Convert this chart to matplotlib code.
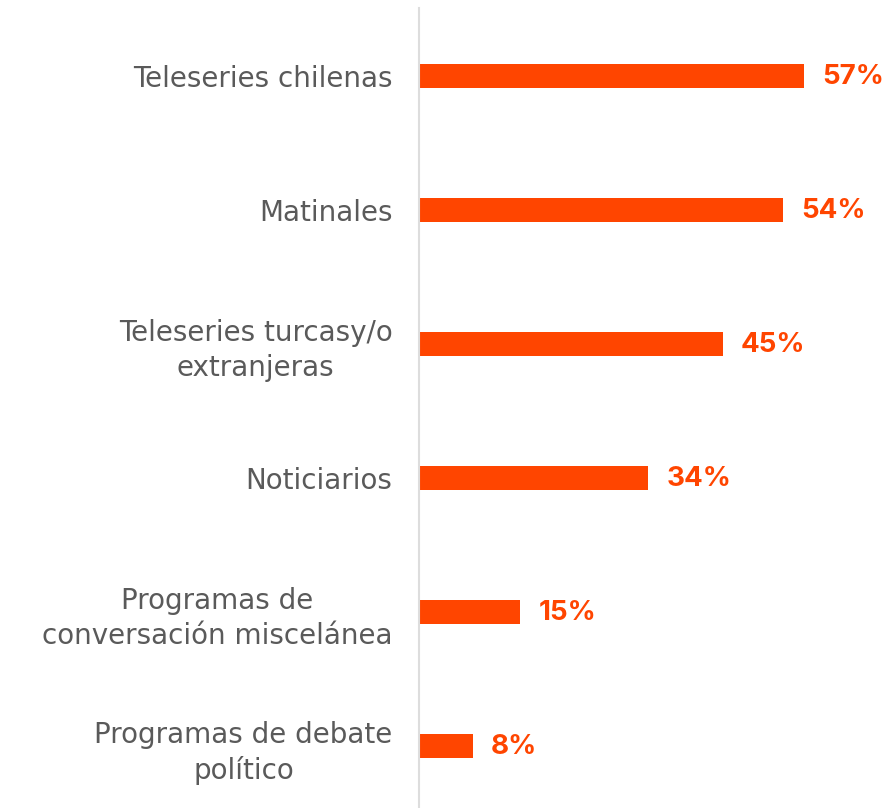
import matplotlib
matplotlib.use("Agg")
import matplotlib.pyplot as plt

categories = [
    "Teleseries chilenas",
    "Matinales",
    "Teleseries turcasy/o\nextranjeras",
    "Noticiarios",
    "Programas de\nconversación miscelánea",
    "Programas de debate\npolítico",
]
values = [57, 54, 45, 34, 15, 8]
value_labels = ["57%", "54%", "45%", "34%", "15%", "8%"]

W, H, DPI = 887, 808, 100
fig = plt.figure(figsize=(W / DPI, H / DPI), dpi=DPI)
ax = fig.add_axes([419 / W, 0, (W - 419) / W, (H - 8) / H])

bar_color = "#FF4500"
text_color = "#5a5a5a"

pos = list(range(len(categories)))
ax.barh(pos, values, height=0.18, color=bar_color, left=0)

px_per_unit = 6.75
ax.set_xlim(0, (W - 419) / px_per_unit)
ax.set_ylim((H - 76) / 134, -68 / 134)

for p, v, lab in zip(pos, values, value_labels):
    ax.annotate(lab, xy=(v, p), xytext=(13, -1), textcoords="offset points",
                ha="left", va="center", color=bar_color, fontsize=20,
                fontweight="bold", family=["Inter", "DejaVu Sans"])

ax.set_yticks(pos)
ax.set_yticklabels(categories, fontsize=20, color=text_color,
                   multialignment="center", linespacing=1.32,
                   family="DejaVu Sans")
ax.tick_params(axis="y", length=0, pad=19)
ax.set_xticks([])

for s in ["top", "right", "bottom"]:
    ax.spines[s].set_visible(False)
ax.spines["left"].set_color("#dddddd")
ax.spines["left"].set_linewidth(1.5)

fig.savefig("out.png", dpi=DPI)
